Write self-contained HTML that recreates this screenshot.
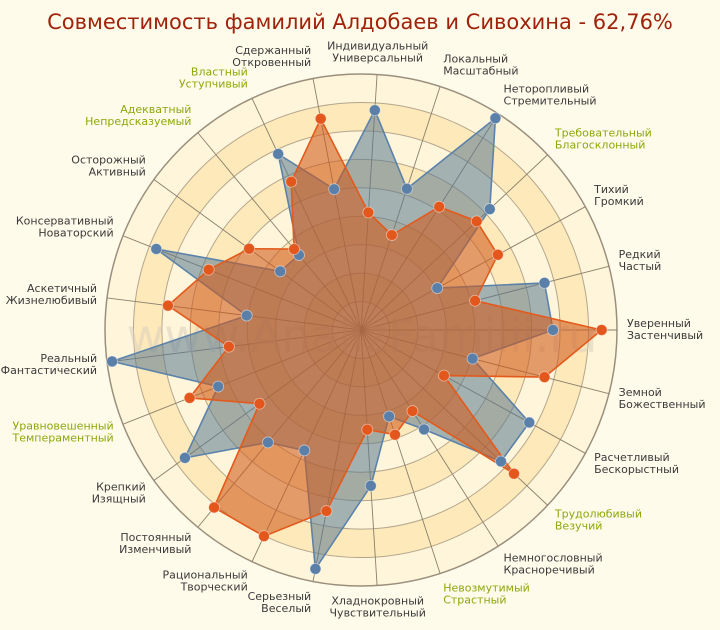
<!DOCTYPE html>
<html><head><meta charset="utf-8"><style>
html,body{margin:0;padding:0;background:#fffbea;}
svg{display:block;font-family:"DejaVu Sans","Liberation Sans",sans-serif;}
</style></head><body>
<svg id="chart" width="720" height="630" viewBox="0 0 720 630" xmlns="http://www.w3.org/2000/svg">
<rect x="0" y="0" width="720" height="630" fill="#fffbea"/>
<text x="360" y="29" text-anchor="middle" font-family="DejaVu Sans, sans-serif" font-size="21" fill="#a0220a">Совместимость фамилий Алдобаев и Сивохина - 62,76%</text>
<g id="rings"></g>
<text x="362" y="352" text-anchor="middle" font-size="46" fill="#d8d0c0" fill-opacity="0.55">www.AnalizFamilii.ru</text>
<g id="series"></g>
<g id="labels"></g>
</svg>
<script>
const categoriesA = ["Уверенный","Редкий","Тихий","Требовательный","Неторопливый","Локальный","Индивидуальный","Сдержанный","Властный","Адекватный","Осторожный","Консервативный","Аскетичный","Реальный","Уравновешенный","Крепкий","Постоянный","Рациональный","Серьезный","Хладнокровный","Невозмутимый","Немногословный","Трудолюбивый","Расчетливый","Земной"];
const categoriesB = ["Застенчивый","Частый","Громкий","Благосклонный","Стремительный","Масштабный","Универсальный","Откровенный","Уступчивый","Непредсказуемый","Активный","Новаторский","Жизнелюбивый","Фантастический","Темпераментный","Изящный","Изменчивый","Творческий","Веселый","Чувствительный","Страстный","Красноречивый","Везучий","Бескорыстный","Божественный"];
const highlighted = [3,8,9,14,20,22];
const blueValues = [0.75,0.74,0.34,0.69,0.98,0.58,0.86,0.56,0.76,0.38,0.39,0.86,0.45,0.98,0.60,0.85,0.57,0.52,0.95,0.61,0.355,0.46,0.75,0.75,0.45];
const orangeValues = [0.94,0.46,0.61,0.62,0.57,0.39,0.46,0.84,0.64,0.41,0.54,0.64,0.76,0.52,0.72,0.49,0.90,0.89,0.72,0.39,0.43,0.375,0.82,0.37,0.74];

const NS="http://www.w3.org/2000/svg";
const cx=361, cy=330, R=256, N=categoriesA.length, RINGS=9;
function ang(i){return i*2*Math.PI/N;}
function px(i,v){return cx+R*v*Math.cos(ang(i));}
function py(i,v){return cy-R*v*Math.sin(ang(i));}
function mk(tag,attrs,parent){const e=document.createElementNS(NS,tag);for(const k in attrs)e.setAttribute(k,attrs[k]);parent.appendChild(e);return e;}

const rings=document.getElementById('rings');
const bandFill=["#fde9b9","#fff5da"];
for(let k=RINGS;k>=1;k--){
  const c=mk('circle',{cx:cx,cy:cy,r:R*k/RINGS,fill:bandFill[k%2],stroke:k===RINGS?"#9a8f7c":"#b3a68c","stroke-width":k===RINGS?1.5:1},rings);
  
  
}
for(let i=0;i<N;i++){
  const l=mk('line',{x1:cx,y1:cy,x2:px(i,1),y2:py(i,1),stroke:"#8a7f6e","stroke-width":0.9},rings);
  
  
}

const series=document.getElementById('series');
function drawSeries(vals,fill,op,stroke,name){
  const pts=vals.map((v,i)=>px(i,v).toFixed(1)+","+py(i,v).toFixed(1)).join(" ");
  const p=mk('polygon',{points:pts,fill:fill,"fill-opacity":op,stroke:stroke,"stroke-width":1.6,"stroke-linejoin":"round"},series);
  
  
}
function drawDots(vals,dot,name){
  vals.forEach((v,i)=>{
    const c=mk('circle',{cx:px(i,v),cy:py(i,v),r:5.5,fill:dot,stroke:"#ffffff","stroke-opacity":0.5,"stroke-width":0.8},series);
    
    
  });
}
drawSeries(blueValues,"#5a7890",0.55,"#5b82ab","series-aldobaev");
drawSeries(orangeValues,"#d05a1a",0.58,"#e35a1c","series-sivokhina");
drawDots(blueValues,"#5a7fa8","series-aldobaev");
drawDots(orangeValues,"#e3571c","series-sivokhina");

const labels=document.getElementById('labels');
for(let i=0;i<N;i++){
  const a=ang(i), c=Math.cos(a), s=Math.sin(a);
  const x=cx+266*c, y=cy-266*s;
  const anchor=c>0.12?"start":(c<-0.12?"end":"middle");
  const top=y-12-12*s;
  const col=highlighted.includes(i)?"#8ca80a":"#3a3a3a";
  const t=mk('text',{x:x,y:top+9,"text-anchor":anchor,"font-size":11,fill:col},labels);
  
  
  const t1=mk('tspan',{x:x,dy:0},t); t1.textContent=categoriesA[i];
  const t2=mk('tspan',{x:x,dy:12},t); t2.textContent=categoriesB[i];
}
</script>
</body></html>
